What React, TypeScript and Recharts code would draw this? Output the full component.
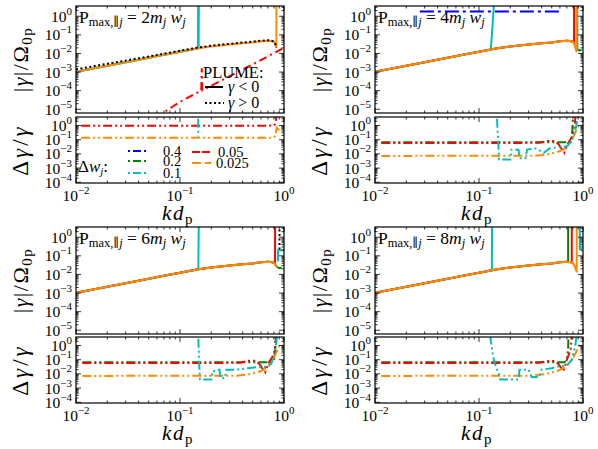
import React from "react";
import { LineChart, Line, XAxis, YAxis } from "recharts";

type P = [number, number | null];

const serif = "'Liberation Serif', 'DejaVu Serif', serif";
const UP = 1e3; // value far above the axis, used for the vertical jumps

// shared growth-rate curve |gamma|/Omega_0p vs k d_p
const kdMain = [0.01, 0.015, 0.02, 0.03, 0.05, 0.07, 0.1, 0.13, 0.15, 0.2, 0.3, 0.4, 0.5, 0.6, 0.7, 0.75, 0.8];
const gammaMain = [1.05e-3, 1.6e-3, 2.2e-3, 3.4e-3, 5.9e-3, 8.5e-3, 1.25e-2, 1.65e-2, 1.9e-2, 2.35e-2, 3.0e-2, 3.5e-2, 3.9e-2, 4.5e-2, 4.8e-2, 4.7e-2, 4.3e-2];

const pmax = [2, 4, 6, 8];
const dwLabels = ["0.4", "0.2", "0.1", "0.05", "0.025"];

const xTicks = [0.01, 0.02, 0.03, 0.04, 0.05, 0.06, 0.07, 0.08, 0.09, 0.1, 0.2, 0.3, 0.4, 0.5, 0.6, 0.7, 0.8, 0.9, 1];
const topDecades = [-5, -4, -3, -2, -1, 0];
const lowDecades = [-4, -3, -2, -1, 0];
const minorSubs = [1, 2, 3, 4, 5, 6, 7, 8, 9];

// ---- panel 1: P = 2 m w
const p1Plume: P[] = [[0.01, 1.4e-3], [0.02, 2.8e-3], [0.05, 6.8e-3], [0.1, 1.4e-2], [0.15, 2.1e-2], [0.2, 2.6e-2], [0.3, 3.3e-2], [0.4, 3.9e-2], [0.5, 4.3e-2], [0.6, 4.8e-2], [0.7, 5.1e-2], [0.75, 4.9e-2], [0.8, 4.4e-2], [0.83, 3.0e-2], [0.845, 2.0e-2]];
const p1RedTop: P[] = [[0.058, 3.5e-6], [0.1, 2.5e-5], [0.16, 1.0e-4], [0.162, 1.6e-3], [0.164, 1.05e-4], [0.3, 6e-4], [0.5, 2.6e-3], [0.7, 7e-3], [0.98, 1.9e-2]];
const p1CyanLow: P[] = [[0.1495, 3], [0.15, 0.17]];
const p1RedLow: P[] = [[0.0112, 0.95], [0.5, 0.95], [0.8, 1.0], [0.83, 1.4], [0.845, 6]];
const p1OrangeLow: P[] = [[0.0112, 0.14], [0.8, 0.14], [0.83, 0.2], [0.85, 0.7], [0.875, 0.55], [0.95, 0.45]];

// ---- panel 2: P = 4 m w
const p2BlueTop: P[] = [[0.027, 1.8], [0.63, 1.8]];
const p2GreenLow: P[] = [[0.0115, 0.065], [0.7, 0.065], [0.77, 0.07], [0.79, 0.4], [0.8, 5]];
const p2RedLow: P[] = [[0.0115, 0.058], [0.38, 0.06], [0.45, 0.08], [0.52, 0.08], [0.58, 0.05], [0.63, 0.02], [0.66, 0.012], [0.7, 0.04], [0.78, 0.15], [0.83, 0.8], [0.85, 6]];
const p2OrangeLow: P[] = [[0.0115, 0.0072], [0.35, 0.0075], [0.45, 0.009], [0.55, 0.013], [0.65, 0.02], [0.75, 0.05], [0.82, 0.2], [0.9, 0.9], [0.98, 1.1]];
const p2CyanLow: P[] = [[0.149, 3], [0.151, 0.4], [0.153, 0.08], [0.156, 0.004], [0.2, 0.004], [0.205, 0.02], [0.24, 0.02], [0.245, 0.005], [0.28, 0.005], [0.29, 0.02], [0.35, 0.025], [0.42, 0.012], [0.48, 0.025], [0.6, 0.03], [0.7, 0.035], [0.78, 0.08], [0.85, 0.6], [0.9, 5]];

// ---- panel 3: P = 6 m w
const p3PlumeTop: P[] = [[0.905, 0.22], [0.906, UP]];
const p3GreenLow: P[] = [[0.0115, 0.065], [0.72, 0.065], [0.8, 0.08], [0.82, 0.5], [0.83, 6]];
const p3RedLow: P[] = [[0.0115, 0.058], [0.38, 0.06], [0.45, 0.085], [0.52, 0.085], [0.58, 0.05], [0.63, 0.02], [0.66, 0.013], [0.7, 0.05], [0.77, 0.15], [0.82, 0.5], [0.84, 6]];
const p3OrangeLow: P[] = [[0.0115, 0.0072], [0.35, 0.0075], [0.45, 0.009], [0.55, 0.013], [0.65, 0.02], [0.75, 0.05], [0.82, 0.2], [0.9, 0.9], [0.98, 1.1]];
const p3CyanLow: P[] = [[0.15, 3], [0.152, 0.25], [0.153, 0.04], [0.156, 0.004], [0.2, 0.004], [0.205, 0.015], [0.24, 0.02], [0.245, 0.005], [0.27, 0.005], [0.28, 0.02], [0.35, 0.02], [0.45, 0.025], [0.55, 0.03], [0.65, 0.03], [0.75, 0.05], [0.82, 0.3], [0.86, 5]];

// ---- panel 4: P = 8 m w
const p4GreenLow: P[] = [[0.0115, 0.065], [0.66, 0.065], [0.7, 0.1], [0.72, 0.6], [0.725, 6]];
const p4RedLow: P[] = [[0.0115, 0.058], [0.38, 0.06], [0.45, 0.08], [0.52, 0.08], [0.58, 0.05], [0.62, 0.025], [0.65, 0.015], [0.7, 0.1], [0.76, 0.5], [0.78, 6]];
const p4OrangeLow: P[] = [[0.0115, 0.0072], [0.3, 0.0075], [0.45, 0.01], [0.55, 0.015], [0.65, 0.025], [0.75, 0.06], [0.85, 0.3], [0.93, 1.0], [0.98, 1.1]];
const p4CyanLow: P[] = [[0.128, 5], [0.135, 0.3], [0.14, 0.07], [0.155, 0.01], [0.16, 0.004], [0.24, 0.004], [0.245, 0.02], [0.3, 0.02], [0.32, 0.006], [0.38, 0.006], [0.4, 0.02], [0.5, 0.025], [0.6, 0.035], [0.7, 0.04], [0.78, 0.1], [0.84, 0.8], [0.87, 6]];

const C = { blue: "#0000ff", green: "#008000", cyan: "#00bfbf", red: "#ff0000", orange: "#ff8c00", black: "#000000" };
const DASHDOT = "8 4 2 4";
const BLUEDASH = "14 4 3 4";
const DDOT = "9 3 2 3 2 3";
const DOTTED = "2 2.5";

// main curve up to kd <= upTo, then the panel's own tail
const curve = (upTo: number, tail: P[]): P[] => [
  ...kdMain.filter((k) => k <= upTo).map((k, i) => [k, gammaMain[i]] as P),
  ...tail,
];

type Series = { data: P[]; color: string; dash?: string; width?: number };

const topSeries: Series[][] = [
  [
    { data: curve(0.15, [[0.151, UP]]), color: C.green },
    { data: curve(0.15, [[0.151, UP]]), color: C.cyan },
    { data: p1RedTop, color: C.red, dash: DASHDOT },
    { data: curve(0.8, [[0.83, 2.8e-2], [0.845, 2.0e-2], [0.846, UP]]), color: C.orange },
    { data: p1Plume, color: C.black, dash: DOTTED },
  ],
  [
    { data: p2BlueTop, color: C.blue, dash: BLUEDASH },
    { data: curve(0.8, [[0.83, 3.2e-2], [0.86, 1.8e-2], [0.9, 1.5e-2], [0.97, 1.5e-2]]), color: C.green },
    { data: curve(0.148, [[0.149, UP], [0.88, UP], [0.885, 1.3e-2]]), color: C.cyan },
    { data: curve(0.8, [[0.82, 3.8e-2], [0.822, UP]]), color: C.red },
    { data: curve(0.8, [[0.83, 3.0e-2], [0.86, 1.4e-2], [0.865, 1.2e-2], [0.866, UP]]), color: C.orange },
  ],
  [
    { data: curve(0.8, [[0.83, 3.2e-2], [0.86, 2.5e-2], [0.9, 2.2e-2], [0.95, 2.3e-2]]), color: C.green },
    { data: curve(0.152, [[0.153, UP], [0.5, null], [0.875, 0.05], [0.876, 0.2], [1.0, 0.2]]), color: C.cyan },
    { data: curve(0.8, [[0.82, 3.8e-2], [0.822, UP]]), color: C.red },
    { data: curve(0.8, [[0.83, 3.0e-2], [0.86, 2.4e-2]]), color: C.orange },
    { data: p3PlumeTop, color: C.black, dash: DOTTED },
  ],
  [
    { data: curve(0.7, [[0.72, 4.6e-2], [0.721, UP]]), color: C.green },
    { data: curve(0.13, [[0.133, 1.75e-2], [0.134, UP], [0.5, null], [0.93, UP], [0.931, 0.23], [0.98, 0.23]]), color: C.cyan },
    { data: curve(0.75, [[0.78, 4.2e-2], [0.781, UP]]), color: C.red },
    { data: curve(0.8, [[0.83, 2.8e-2], [0.86, 1.6e-2], [0.87, 1.5e-2], [0.871, UP]]), color: C.orange },
  ],
];

const lowSeries: Series[][] = [
  [
    { data: p1RedLow, color: C.red, dash: DDOT },
    { data: p1OrangeLow, color: C.orange, dash: DDOT },
    { data: p1CyanLow, color: C.cyan, dash: DDOT },
  ],
  [
    { data: p2GreenLow, color: C.green, dash: DDOT },
    { data: p2RedLow, color: C.red, dash: DDOT },
    { data: p2OrangeLow, color: C.orange, dash: DDOT },
    { data: p2CyanLow, color: C.cyan, dash: DDOT },
  ],
  [
    { data: p3GreenLow, color: C.green, dash: DDOT },
    { data: p3RedLow, color: C.red, dash: DDOT },
    { data: p3OrangeLow, color: C.orange, dash: DDOT },
    { data: p3CyanLow, color: C.cyan, dash: DDOT },
  ],
  [
    { data: p4GreenLow, color: C.green, dash: DDOT },
    { data: p4RedLow, color: C.red, dash: DDOT },
    { data: p4OrangeLow, color: C.orange, dash: DDOT },
    { data: p4CyanLow, color: C.cyan, dash: DDOT },
  ],
];

const logTicks = (decades: number[], hi: number) => {
  const out: number[] = [];
  decades.forEach((d) => minorSubs.forEach((s) => out.push(s * Math.pow(10, d))));
  return out.filter((v) => v <= hi * 1.0001);
};

const topDomain = [Math.pow(10, -5.2), Math.pow(10, 0.55)];
const lowDomain = [Math.pow(10, -4.05), Math.pow(10, 0.6)];
const topTicks = logTicks(topDecades, topDomain[1]);
const lowTicks = logTicks(lowDecades, lowDomain[1]);

// layout
const colX = [76, 375];
const W = 208;
const topY = [6, 227];
const lowY = [117, 337];
const TOPH = 107;
const LOWH = 66;
const PADL = 70, PADR = 12, PADT = 8, PADB = 28;

const sup = (n: number) => (n < 0 ? `\u2212${-n}` : `${n}`);
const isMajor = (v: number) => Math.abs(Math.log10(v) - Math.round(Math.log10(v))) < 1e-6;

function XTick(props: any) {
  const { x, y, payload, plotH, show } = props;
  const v = payload.value as number;
  const major = isMajor(v);
  const len = major ? 5 : 2.5;
  return (
    <g>
      <line x1={x} x2={x} y1={y} y2={y - len} stroke="#000" strokeWidth={0.8} />
      <line x1={x} x2={x} y1={y - plotH} y2={y - plotH + len} stroke="#000" strokeWidth={0.8} />
      {show && major && (
        <text x={x} y={y + 18} textAnchor="middle" fontSize={15.5} fontFamily={serif} fill="#000">
          10<tspan dy={-7} fontSize={11}>{sup(Math.round(Math.log10(v)))}</tspan>
        </text>
      )}
    </g>
  );
}

function YTick(props: any) {
  const { x, y, payload, plotW } = props;
  const v = payload.value as number;
  const major = isMajor(v);
  const len = major ? 5 : 2.5;
  return (
    <g>
      <line x1={x} x2={x + len} y1={y} y2={y} stroke="#000" strokeWidth={0.8} />
      <line x1={x + plotW} x2={x + plotW - len} y1={y} y2={y} stroke="#000" strokeWidth={0.8} />
      {major && (
        <text x={x - 4} y={y + 5.5} textAnchor="end" fontSize={15.5} fontFamily={serif} fill="#000">
          10<tspan dy={-7} fontSize={11}>{sup(Math.round(Math.log10(v)))}</tspan>
        </text>
      )}
    </g>
  );
}

function Subplot({ x, y, h, domain, yTicks, showX, series }: { x: number; y: number; h: number; domain: number[]; yTicks: number[]; showX: boolean; series: Series[] }) {
  return (
    <div style={{ position: "absolute", left: x - PADL, top: y - PADT }}>
      <LineChart width={W + PADL + PADR} height={h + PADT + PADB} margin={{ top: PADT, right: PADR, bottom: 0, left: 0 }}>
        <XAxis
          type="number"
          dataKey="x"
          scale="log"
          domain={[0.01, 1]}
          ticks={xTicks}
          interval={0}
          allowDataOverflow
          axisLine={false}
          tickLine={false}
          tickSize={0}
          tickMargin={0}
          height={PADB}
          tick={(p: any) => <XTick {...p} plotH={h} show={showX} />}
        />
        <YAxis
          type="number"
          scale="log"
          domain={domain}
          ticks={yTicks}
          interval={0}
          allowDataOverflow
          axisLine={false}
          tickLine={false}
          tickSize={0}
          tickMargin={0}
          width={PADL}
          tick={(p: any) => <YTick {...p} plotW={W} />}
        />
        {series.map((s, i) => (
          <Line
            key={i}
            data={s.data.map(([kx, ky]) => ({ x: kx, y: ky }))}
            dataKey="y"
            type="linear"
            stroke={s.color}
            strokeWidth={s.width ?? 2}
            strokeDasharray={s.dash}
            dot={false}
            connectNulls={false}
            isAnimationActive={false}
          />
        ))}
      </LineChart>
    </div>
  );
}

function Title({ x, y, n }: { x: number; y: number; n: number }) {
  return (
    <text x={x} y={y} fontSize={17.5} fontFamily={serif} fill="#000">
      P<tspan fontSize={12.5} dy={3}>max,∥</tspan>
      <tspan fontSize={12.5} fontStyle="italic">j</tspan>
      <tspan dy={-3}>{` = ${n}`}</tspan>
      <tspan fontStyle="italic">m</tspan>
      <tspan fontSize={12.5} dy={3} fontStyle="italic">j</tspan>
      <tspan dy={-3} fontStyle="italic">{" w"}</tspan>
      <tspan fontSize={12.5} dy={3} fontStyle="italic">j</tspan>
    </text>
  );
}

function Overlay() {
  const frames: React.ReactNode[] = [];
  const texts: React.ReactNode[] = [];
  [0, 1].forEach((r) =>
    [0, 1].forEach((c) => {
      const idx = r * 2 + c;
      const x0 = colX[c];
      frames.push(<rect key={`ft${idx}`} x={x0} y={topY[r]} width={W} height={TOPH} fill="none" stroke="#000" strokeWidth={1.2} />);
      frames.push(<rect key={`fl${idx}`} x={x0} y={lowY[r]} width={W} height={LOWH} fill="none" stroke="#000" strokeWidth={1.2} />);
      texts.push(<Title key={`t${idx}`} x={x0 + 3} y={topY[r] + 17} n={pmax[idx]} />);
      const yl = x0 - 48;
      texts.push(
        <text key={`ya${idx}`} transform={`translate(${yl},${topY[r] + TOPH / 2}) rotate(-90)`} textAnchor="middle" fontSize={22} letterSpacing={1.5} fontFamily={serif} fill="#000">
          |<tspan fontStyle="italic">γ</tspan>|/Ω<tspan fontSize={15} dy={4}>0p</tspan>
        </text>
      );
      texts.push(
        <text key={`yb${idx}`} transform={`translate(${yl},${lowY[r] + LOWH / 2}) rotate(-90)`} textAnchor="middle" fontSize={23} letterSpacing={3} fontFamily={serif} fill="#000">
          Δ<tspan fontStyle="italic">γ</tspan>/<tspan fontStyle="italic">γ</tspan>
        </text>
      );
      texts.push(
        <text key={`xl${idx}`} x={x0 + W / 2 - 2} y={lowY[r] + LOWH + 37} textAnchor="middle" fontSize={21} letterSpacing={1.5} fontFamily={serif} fill="#000">
          <tspan fontStyle="italic">kd</tspan>
          <tspan fontSize={15} dy={4}>p</tspan>
        </text>
      );
    })
  );
  const legRows = [
    { x1: 128, y: 151, tx: 163, color: C.blue, dash: "2 3 8 3" },
    { x1: 128, y: 161, tx: 163, color: C.green, dash: "2 3 8 3" },
    { x1: 128, y: 173, tx: 163, color: C.cyan, dash: "2 3 8 3" },
    { x1: 192, y: 152, tx: 218, color: C.red, dash: "8 2 8 3 3 3" },
    { x1: 192, y: 163, tx: 216, color: C.orange, dash: "9 4 6 4" },
  ];
  return (
    <svg width={598} height={449} style={{ position: "absolute", left: 0, top: 0, pointerEvents: "none" }}>
      {frames}
      {texts}
      {/* PLUME legend */}
      <text x={203} y={78} fontSize={16.5} fontFamily={serif} fill="#000">PLUME:</text>
      <line x1={205} x2={223} y1={87} y2={87} stroke="#000" strokeWidth={2} />
      <text x={228} y={92} fontSize={16} fontFamily={serif} fill="#000">
        <tspan fontStyle="italic">γ</tspan> &lt; 0
      </text>
      <line x1={205} x2={224} y1={103} y2={103} stroke="#000" strokeWidth={2} strokeDasharray={DOTTED} />
      <text x={228} y={108} fontSize={16} fontFamily={serif} fill="#000">
        <tspan fontStyle="italic">γ</tspan> &gt; 0
      </text>
      {/* Delta w legend */}
      <text x={78} y={172} fontSize={17} fontFamily={serif} fill="#000">
        Δ<tspan fontStyle="italic">w</tspan>
        <tspan fontSize={11} dy={3} fontStyle="italic">j</tspan>
        <tspan dy={-3}>:</tspan>
      </text>
      {legRows.map((l, i) => (
        <g key={`lg${i}`}>
          <line x1={l.x1} x2={l.x1 + 20} y1={l.y} y2={l.y} stroke={l.color} strokeWidth={2} strokeDasharray={l.dash} />
          <text x={l.tx} y={l.y + 5} fontSize={14.5} fontFamily={serif} fill="#000">{dwLabels[i]}</text>
        </g>
      ))}
    </svg>
  );
}

export default function App() {
  return (
    <div style={{ position: "absolute", left: 0, top: 0, width: 598, height: 449, background: "#fff" }}>
      {[0, 1].map((r) =>
        [0, 1].map((c) => {
          const idx = r * 2 + c;
          return (
            <React.Fragment key={idx}>
              <Subplot x={colX[c]} y={topY[r]} h={TOPH} domain={topDomain} yTicks={topTicks} showX={false} series={topSeries[idx]} />
              <Subplot x={colX[c]} y={lowY[r]} h={LOWH} domain={lowDomain} yTicks={lowTicks} showX={true} series={lowSeries[idx]} />
            </React.Fragment>
          );
        })
      )}
      <Overlay />
    </div>
  );
}
